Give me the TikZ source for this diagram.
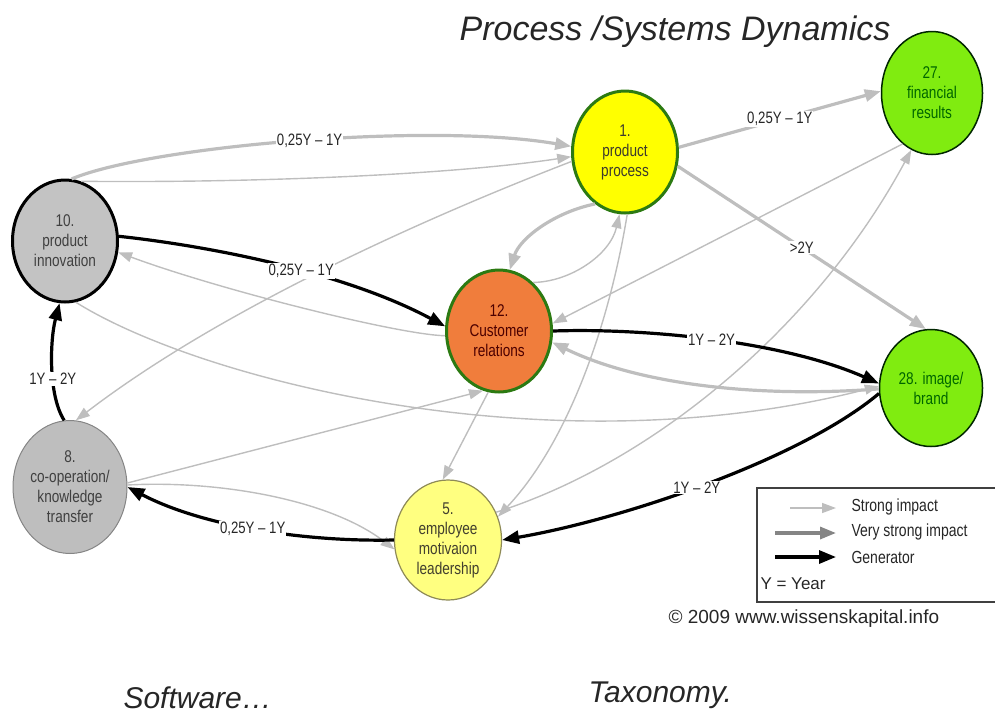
\documentclass[tikz,border=0pt]{standalone}
\usepackage{fontspec}
\setmainfont{Liberation Sans}
\newfontfamily\nf[FakeStretch=0.8]{Liberation Sans}
\usetikzlibrary{shapes.geometric,arrows.meta}

\definecolor{edgegrey}{HTML}{BEBEBE}
\definecolor{darkgrey}{HTML}{858585}
\definecolor{ringgreen}{HTML}{2C7A12}
\definecolor{procyellow}{HTML}{FFFF00}
\definecolor{custorange}{HTML}{F07D3C}
\definecolor{innogrey}{HTML}{C3C3C3}
\definecolor{coopgrey}{HTML}{BEBEBE}
\definecolor{empyellow}{HTML}{FFFF80}
\definecolor{resgreen}{HTML}{80EC10}

\begin{document}
\begin{tikzpicture}[x=1pt,y=-1pt,
  every node/.style={font=\nf\fontsize{17}{20}\selectfont, align=center},
  topic/.style={ellipse, minimum width=105pt, minimum height=122pt, inner sep=0pt},
  ring/.style={topic, draw=ringgreen, line width=3pt},
  strong/.style={draw=edgegrey, line width=1.4pt, -{Triangle[length=14pt,width=10pt]}},
  strongthick/.style={draw=edgegrey, line width=3.2pt, -{Triangle[length=16pt,width=12pt]}},
  verystrong/.style={draw=darkgrey, line width=3.2pt, -{Triangle[length=16pt,width=12pt]}},
  generator/.style={draw=black, line width=3.2pt, -{Triangle[length=17pt,width=13pt]}},
  lbl/.style={fill=white, inner sep=1pt, text=black!85, font=\nf\fontsize{16.5}{18}\selectfont},
  legtext/.style={anchor=west, text=black!85, font=\nf\fontsize{17.5}{20}\selectfont},
]
\useasboundingbox (0,0) rectangle (995,716);

% ---- headings ----
\node[anchor=base, font=\itshape\fontsize{34}{40}\selectfont, text=black!85] (title) at (675,40) {Process /Systems Dynamics};
\node[anchor=base west, font=\itshape\fontsize{30}{34}\selectfont, text=black!85] (soft) at (120,708) {Software…};
\node[anchor=base west, font=\itshape\fontsize{30}{34}\selectfont, text=black!85] (tax) at (585,702) {Taxonomy.};

% ---- topics ----
\node[ring, fill=procyellow, text=black!75!olive] (n1) at (625,152) {1.\\product\\process};
\node[ring, fill=custorange, text=black!70!red] (n12) at (499,331) {12.\\Customer\\relations};
\node[topic, fill=innogrey, draw=black, line width=3pt, text=black!75] (n10) at (65,241) {10.\\product\\innovation};
\node[topic, fill=coopgrey, draw=darkgrey, line width=1pt, minimum width=114pt, minimum height=133pt, text=black!75] (n8) at (70,487) {8.\\co-operation/\\knowledge\\transfer};
\node[topic, fill=empyellow, draw=black!45!olive!70, line width=1.2pt, minimum width=107pt, minimum height=120pt, text=black!70!olive] (n5) at (448,540) {5.\\employee\\motivaion\\leadership};
\node[topic, fill=resgreen, draw=black!85!green, line width=1.5pt, minimum width=101pt, minimum height=123pt, text=black!60!green] (n27) at (932,93) {27.\\financial\\results};
\node[topic, fill=resgreen, draw=black!85!green, line width=1.5pt, minimum width=103pt, minimum height=117pt, text=black!60!green] (n28) at (931,388) {28. image/\\brand};

% ---- strong impacts ----
\draw[strong] (n10.75) .. controls (250,183) and (450,175) .. (n1.185);
\draw[strong] (n1.190) .. controls (420,220) and (220,310) .. (n8.85);
\draw[strong] (n12.185) .. controls (400,335) and (220,290) .. (n10.-12);
\draw[strong] (n10.-80) .. controls (200,380) and (550,470) .. (n28.178);
\draw[strong] (n8.4) -- (n12.-105);
\draw[strong] (n8.2) .. controls (220,480) and (330,500) .. (n5.190);
\draw[strong] (n12.-100) -- (n5.95);
\draw[strong] (n12.55) .. controls (570,282) and (610,255) .. (n1.-95);
\draw[strong] (n1.-88) .. controls (610,320) and (570,440) .. (n5.25);
\draw[strong] (n27.-120) -- (n12.8);
\draw[strong] (n5.30) .. controls (660,460) and (820,320) .. (n27.-110);

% ---- thick grey impacts ----
\draw[strongthick] (n10.84) .. controls (150,146) and (430,122) .. (n1.174)
  node[lbl, pos=0.52] (t101) {0,25Y – 1Y};
\draw[strongthick] (n1.-120) .. controls (555,212) and (520,238) .. (n12.80);
\draw[strongthick] (n1.5) -- (n27.178) node[lbl, pos=0.5] (t127) {0,25Y – 1Y};
\draw[strongthick] (n1.-15) -- (n28.95) node[lbl, pos=0.5] (t128) {>2Y};
\draw[strongthick] (n28.181) .. controls (760,398) and (640,385) .. (n12.-12);

% ---- generators ----
\draw[generator] (n10.5) .. controls (200,245) and (340,270) .. (n12.175)
  node[lbl, pos=0.58] (t1012) {0,25Y – 1Y};
\draw[generator] (n8.95) .. controls (48,395) and (50,340) .. (n10.-95)
  node[lbl, pos=0.4] (t810) {1Y – 2Y};
\draw[generator] (n5.180) .. controls (300,542) and (200,525) .. (n8.0)
  node[lbl, pos=0.5] (t58) {0,25Y – 1Y};
\draw[generator] (n12.0) .. controls (640,328) and (780,340) .. (n28.175)
  node[lbl, pos=0.5] (t1228) {1Y – 2Y};
\draw[generator] (n28.186) .. controls (800,460) and (620,520) .. (n5.0)
  node[lbl, pos=0.52] (t285) {1Y – 2Y};

% ---- legend ----
\draw[line width=1.2pt, draw=black!75] (757,488) rectangle (1000,602);
\coordinate (ls1) at (790,508); \coordinate (le1) at (836,508);
\coordinate (ls2) at (775,533); \coordinate (le2) at (836,533);
\coordinate (ls3) at (775,557); \coordinate (le3) at (836,557);
\draw[strong] (ls1) -- (le1);
\draw[verystrong] (ls2) -- (le2);
\draw[generator] (ls3) -- (le3);
\node[legtext] (g1) at (848,507) {Strong impact};
\node[legtext] (g2) at (848,532) {Very strong impact};
\node[legtext] (g3) at (848,557) {Generator};
\node[legtext, font=\fontsize{17}{20}\selectfont] (g4) at (757,584) {Y = Year};

\node[anchor=base west, font=\fontsize{19}{22}\selectfont, text=black!85] (copy) at (665,623) {© 2009 www.wissenskapital.info};
\end{tikzpicture}
\end{document}
